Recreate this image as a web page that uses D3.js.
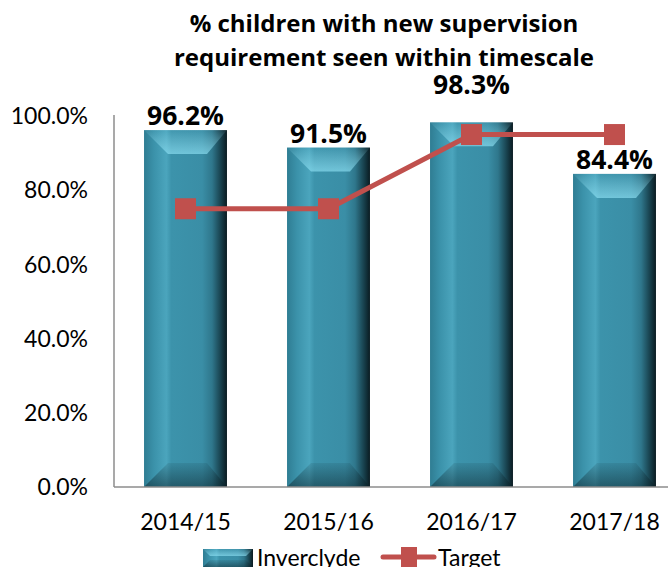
<!DOCTYPE html>
<html><head><meta charset="utf-8">
<script src="https://cdn.jsdelivr.net/npm/d3@7"></script>
<style>body{margin:0;background:#fff}svg{display:block}</style>
</head><body>
<script>
const categories = ["2014/15","2015/16","2016/17","2017/18"];
const inverclyde = [96.2, 91.5, 98.3, 84.4];
const target = [75, 75, 95, 95];
const yTicks = [0, 20, 40, 60, 80, 100];
const titleLines = ["% children with new supervision","requirement seen within timescale"];
const legendLabels = ["Inverclyde","Target"];

const W = 668, H = 567;
const svg = d3.select("body").append("svg").attr("width", W).attr("height", H);
const x = d3.scaleBand().domain(categories).range([114, 686]).paddingInner(0.42).paddingOuter(0.21);
const y = d3.scaleLinear().domain([0,100]).range([487,116]);

const defs = svg.append("defs");
const hg = defs.append("linearGradient").attr("id","face").attr("x1","0").attr("x2","1").attr("y1","0").attr("y2","0");
[[0,"#2f7d93"],[0.12,"#3b92aa"],[0.27,"#4ba5bd"],[0.33,"#3c93ab"],[0.7,"#3a8ea6"],[0.82,"#2f778c"],[0.93,"#173f4b"],[1,"#0a1b21"]]
 .forEach(s=>hg.append("stop").attr("offset",s[0]).attr("stop-color",s[1]));
const tg = defs.append("linearGradient").attr("id","topb").attr("x1","0").attr("x2","0").attr("y1","0").attr("y2","1");
[[0,"#9be6f7",0.05],[1,"#8fe2f5",0.65]].forEach(s=>tg.append("stop").attr("offset",s[0]).attr("stop-color",s[1]).attr("stop-opacity",s[2]));
const bg = defs.append("linearGradient").attr("id","botb").attr("x1","0").attr("x2","0").attr("y1","0").attr("y2","1");
[[0,"#0b2229",0.1],[1,"#0b2229",0.5]].forEach(s=>bg.append("stop").attr("offset",s[0]).attr("stop-color",s[1]).attr("stop-opacity",s[2]));

// title
svg.append("g").selectAll("text").data(titleLines).join("text")
  .attr("x", 384).attr("y",(d,i)=>32+i*34).attr("text-anchor","middle")
  .attr("font-family","Open Sans").attr("font-weight","bold").attr("font-size",24)
  .attr("fill","#000").text(d=>d);

// y axis labels
svg.append("g").selectAll("text").data(yTicks).join("text")
  .attr("x", 88).attr("y", d=>y(d)).attr("dy","0.36em").attr("text-anchor","end")
  .attr("font-family","Lato").attr("font-size",23).attr("fill","#000")
  .text(d=>d.toFixed(1)+"%");

// bars
const d0 = 24;
const bars = svg.append("g").selectAll("g").data(inverclyde).join("g");
bars.each(function(v,i){
  const g = d3.select(this);
  const x0 = x(categories[i]), x1 = x0 + x.bandwidth(), yt = y(v), yb = y(0);
  g.append("rect").attr("x",x0).attr("y",yt).attr("width",x1-x0).attr("height",yb-yt).attr("fill","url(#face)");
  g.append("polygon").attr("points",[[x0,yt],[x1,yt],[x1-d0+4,yt+d0],[x0+d0,yt+d0]].join(" ")).attr("fill","url(#topb)");
  g.append("polygon").attr("points",[[x0,yb],[x1,yb],[x1-d0+4,yb-d0],[x0+d0,yb-d0]].join(" ")).attr("fill","url(#botb)");
});

// axes lines
svg.append("line").attr("x1",114).attr("x2",114).attr("y1",115).attr("y2",487).attr("stroke","#8c8c8c").attr("stroke-width",1.5);
svg.append("line").attr("x1",114).attr("x2",668).attr("y1",487).attr("y2",487).attr("stroke","#8c8c8c").attr("stroke-width",1.5);

// x labels
svg.append("g").selectAll("text").data(categories).join("text")
  .attr("x", d=>x(d)+x.bandwidth()/2).attr("y", 530).attr("text-anchor","middle")
  .attr("font-family","Lato").attr("font-size",23).attr("fill","#000").text(d=>d);

// target line
const cx = d=>x(d)+x.bandwidth()/2;
svg.append("path").datum(target).attr("fill","none").attr("stroke","#c0504d").attr("stroke-width",5)
  .attr("d", d3.line().x((d,i)=>cx(categories[i])).y(d=>y(d)));
svg.append("g").selectAll("rect").data(target).join("rect")
  .attr("x",(d,i)=>cx(categories[i])-10.5).attr("y",d=>y(d)-10.5).attr("width",21).attr("height",21).attr("fill","#c0504d");

// data labels
svg.append("g").selectAll("text").data(inverclyde).join("text")
  .attr("x",(d,i)=>cx(categories[i])).attr("y",(d,i)=> Math.abs(d-target[i])<5 ? y(d)-28 : y(d)-5)
  .attr("text-anchor","middle").attr("font-family","Open Sans").attr("font-weight","bold").attr("font-size",26.5)
  .attr("fill","#000").text(d=>d.toFixed(1)+"%");

// legend
const lg = svg.append("g");
lg.append("rect").attr("x",203).attr("y",549).attr("width",50).attr("height",18).attr("fill","url(#face)");
lg.append("polygon").attr("points","203,549 253,549 246,556 210,556").attr("fill","url(#topb)");
lg.append("polygon").attr("points","203,567 253,567 246,560 210,560").attr("fill","url(#botb)");
lg.append("line").attr("x1",383).attr("x2",434).attr("y1",557).attr("y2",557).attr("stroke","#c0504d").attr("stroke-width",5).attr("stroke-linecap","round");
lg.append("rect").attr("x",401).attr("y",547).attr("width",16).attr("height",20).attr("fill","#c0504d");
lg.selectAll("text").data(legendLabels).join("text")
  .attr("x",(d,i)=>i===0?257:438).attr("y",566)
  .attr("font-family","Lato").attr("font-size",23).attr("fill","#000").text(d=>d);
</script>
</body></html>
